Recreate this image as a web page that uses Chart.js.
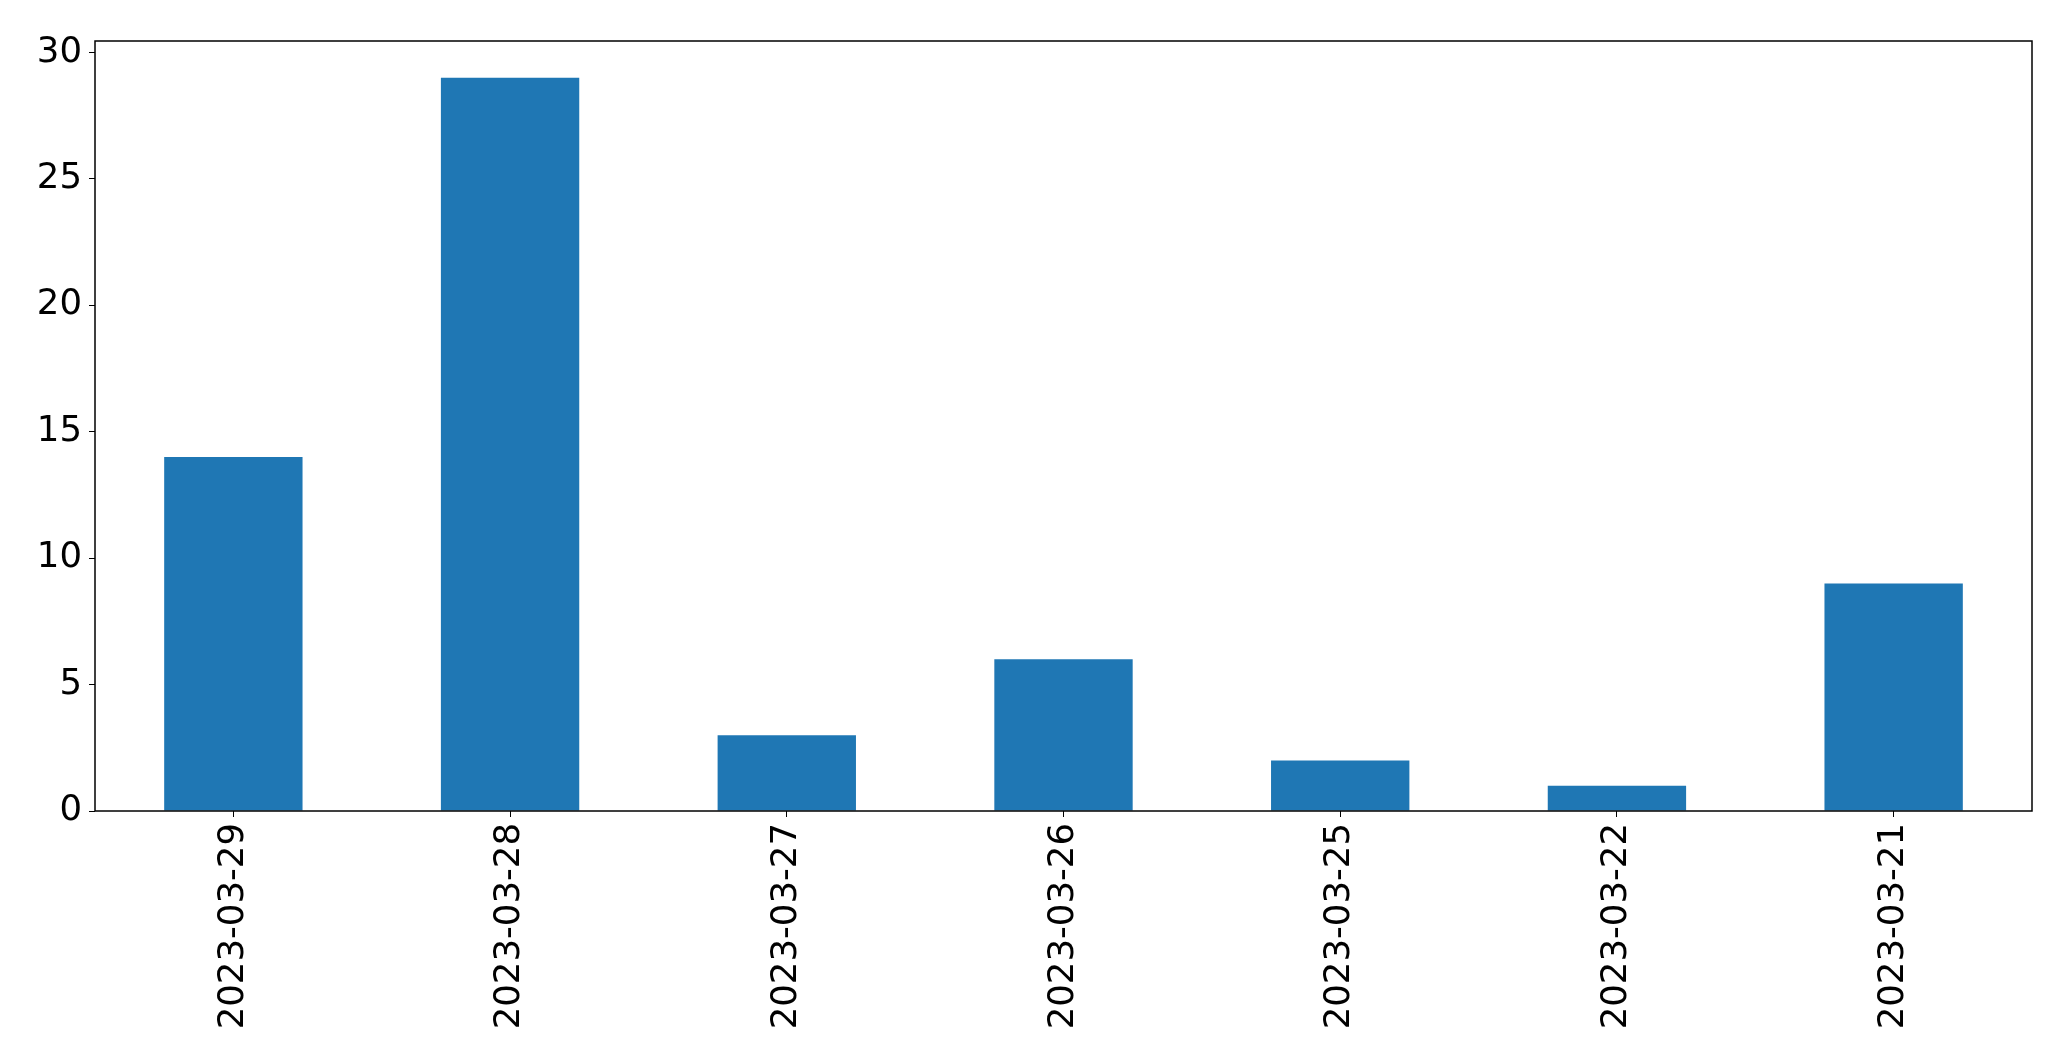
<!DOCTYPE html>
<html>
<head>
<meta charset="utf-8">
<script src="https://cdn.jsdelivr.net/npm/chart.js@4/dist/chart.umd.min.js"></script>
<style>
html,body{margin:0;padding:0;background:#fff;}
#wrap{width:2071px;height:1063px;}
</style>
</head>
<body>
<div id="wrap"><canvas id="c" width="2071" height="1063"></canvas></div>
<script>
const categories = ["2023-03-29","2023-03-28","2023-03-27","2023-03-26","2023-03-25","2023-03-22","2023-03-21"];
const values = [14, 29, 3, 6, 2, 1, 9];
const yTicks = [0, 5, 10, 15, 20, 25, 30];

const frame = {
  id: 'frame',
  afterDatasetsDraw(chart) {
    const a = chart.chartArea, ctx = chart.ctx;
    ctx.save();
    ctx.strokeStyle = '#000';
    ctx.lineWidth = 1.5;
    ctx.strokeRect(a.left, a.top, a.right - a.left, a.bottom - a.top);
    ctx.restore();
  }
};

new Chart(document.getElementById('c'), {
  type: 'bar',
  data: {
    labels: categories,
    datasets: [{
      data: values,
      backgroundColor: '#1f77b4',
      borderWidth: 0,
      categoryPercentage: 0.5,
      barPercentage: 1.0
    }]
  },
  options: {
    responsive: false,
    animation: false,
    devicePixelRatio: 1,
    layout: { padding: { top: 41, right: 39, left: 0, bottom: 0 } },
    plugins: { legend: { display: false }, tooltip: { enabled: false } },
    scales: {
      x: {
        offset: true,
        afterFit: s => { s.height = 252; },
        grid: { display: true, drawOnChartArea: false, tickLength: 6, tickColor: '#000', color: '#000', offset: false },
        border: { display: false },
        ticks: {
          color: '#000',
          font: { family: 'DejaVu Sans', size: 35.5 },
          maxRotation: 90, minRotation: 90,
          padding: 6,
          autoSkip: false
        }
      },
      y: {
        min: 0,
        max: 30.45,
        afterFit: s => { s.width = 95; },
        afterBuildTicks: s => { s.ticks = yTicks.map(v => ({ value: v })); },
        grid: { display: true, drawOnChartArea: false, tickLength: 6, tickColor: '#000', color: '#000' },
        border: { display: false },
        ticks: {
          color: '#000',
          font: { family: 'DejaVu Sans', size: 35.5 },
          padding: 7,
          includeBounds: false
        }
      }
    }
  },
  plugins: [frame]
});
</script>
</body>
</html>
